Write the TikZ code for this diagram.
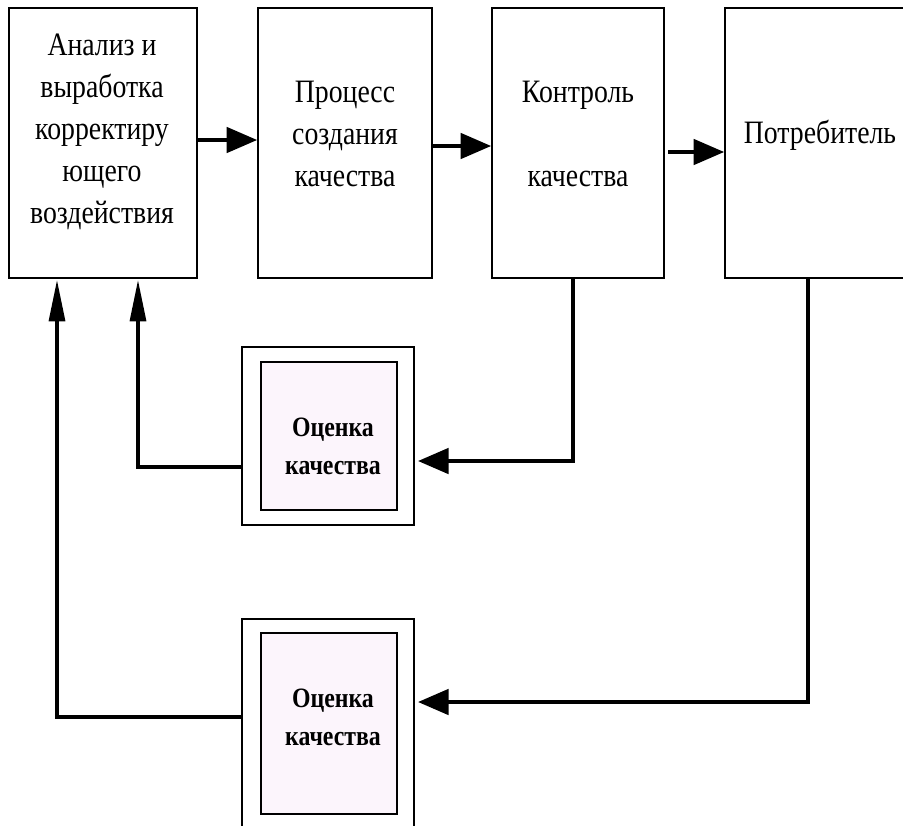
\documentclass[tikz,border=0pt]{standalone}
\usepackage{fontspec}
\setmainfont{Liberation Serif}[FakeStretch=0.85]
\usetikzlibrary{arrows.meta,calc}
\definecolor{evalfill}{RGB}{252,245,252}
\tikzset{
  box/.style={draw=black,line width=1.2pt,minimum width=#1,inner sep=0pt},
  arr/.style={line width=3pt,-{Triangle[length=23pt,width=19pt]}},
  uparr/.style={line width=2.4pt,-{Triangle[length=31pt,width=12pt]}},
  lbl/.style={align=center,font=\fontsize{24.5}{31.5}\selectfont},
  elbl/.style={align=center,font=\bfseries\fontsize{21}{28.5}\selectfont},
}
\begin{document}
\begin{tikzpicture}[x=0.75pt,y=-0.75pt]
\useasboundingbox (0,0) rectangle (903,825);
\clip (0,0) rectangle (903,825);
% main chain of blocks
\node[box=188*0.75pt,minimum height=270*0.75pt] (A) at (103,143) {};
\node[box=174*0.75pt,minimum height=270*0.75pt] (B) at (345,143) {};
\node[box=172*0.75pt,minimum height=270*0.75pt] (C) at (578,143) {};
\node[box=190*0.75pt,minimum height=270*0.75pt] (D) at (820,143) {};
\node[lbl] (tA) at (102,132) {Анализ и\\ выработка\\ корректиру\\ ющего\\ воздействия};
\node[lbl] (tB) at (345,134) {Процесс\\ создания\\ качества};
\node[lbl] (tC) at (578,134) {Контроль\\[31.5pt] качества};
\node[lbl] (tD) at (820,135) {Потребитель};
% evaluation blocks (double frame)
\node[box=172*0.75pt,minimum height=178*0.75pt] (E1) at (328,436) {};
\node[box=136*0.75pt,minimum height=148*0.75pt,fill=evalfill] (F1) at (329,436) {};
\node[elbl] (tE1) at (333,446) {Оценка\\ качества};
\node[box=172*0.75pt,minimum height=216*0.75pt] (E2) at (328,727) {};
\node[box=136*0.75pt,minimum height=181*0.75pt,fill=evalfill] (F2) at (329,723.5) {};
\node[elbl] (tE2) at (333,717) {Оценка\\ качества};
% forward connectors
\coordinate (a1) at (A.east |- 0,140);
\coordinate (b1) at (B.west |- 0,140);
\coordinate (b2) at (B.east |- 0,146);
\coordinate (c1) at (C.west |- 0,146);
\coordinate (c2) at (668,152);
\coordinate (d1) at (D.west |- 0,152);
\draw[arr] (a1) -- (b1);
\draw[arr] (b2) -- (c1);
\draw[arr] (c2) -- (d1);
% feedback from quality control
\coordinate (cB) at (573,0 |- C.south);
\coordinate (e1in) at (418,461);
\draw[arr] (cB) |- (e1in);
\coordinate (e1out) at (E1.west |- 0,467);
\coordinate (aB1) at (138,280);
\draw[uparr] (e1out) -| (aB1);
% feedback from the consumer
\coordinate (dB) at (808,0 |- D.south);
\coordinate (e2in) at (418,702);
\draw[arr] (dB) |- (e2in);
\coordinate (e2out) at (E2.west |- 0,717);
\coordinate (aB2) at (57,280);
\draw[uparr] (e2out) -| (aB2);
\end{tikzpicture}
\end{document}
